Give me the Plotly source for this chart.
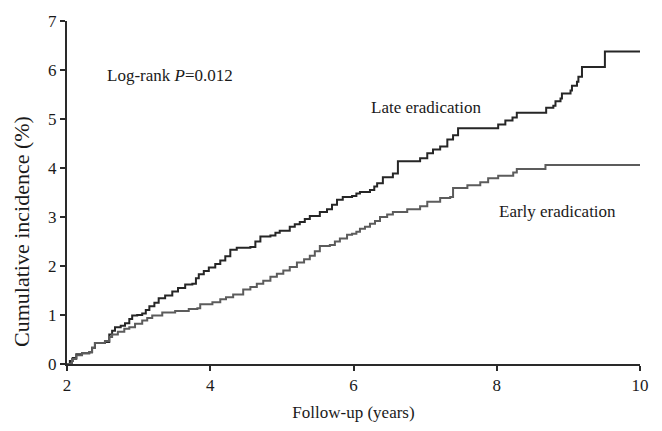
import plotly.graph_objects as go

# Late eradication: follow-up (years) and cumulative incidence (%)
late_years = [2.00, 2.04, 2.08, 2.13, 2.21, 2.31, 2.35, 2.39, 2.53, 2.59,
              2.63, 2.67, 2.75, 2.81, 2.87, 2.91, 2.98, 3.05, 3.10, 3.15,
              3.22, 3.28, 3.37, 3.47, 3.55, 3.65, 3.75, 3.80, 3.84, 3.91,
              3.98, 4.07, 4.14, 4.21, 4.28, 4.37, 4.56, 4.63, 4.70, 4.84,
              4.91, 4.97, 5.11, 5.18, 5.25, 5.32, 5.39, 5.53, 5.63, 5.70,
              5.77, 5.85, 5.98, 6.04, 6.09, 6.23, 6.29, 6.33, 6.41, 6.55,
              6.62, 6.89, 6.93, 7.03, 7.11, 7.21, 7.31, 7.39, 7.46, 8.01,
              8.02, 8.12, 8.22, 8.28, 8.68, 8.69, 8.79, 8.82, 8.89, 8.91,
              9.03, 9.05, 9.12, 9.14, 9.19, 9.51, 10.00]
late_incidence = [0.00, 0.06, 0.12, 0.20, 0.22, 0.24, 0.33, 0.43, 0.45, 0.60,
                  0.68, 0.75, 0.78, 0.83, 0.92, 0.99, 1.00, 1.03, 1.10, 1.18,
                  1.25, 1.34, 1.40, 1.48, 1.55, 1.62, 1.64, 1.75, 1.83, 1.90,
                  1.97, 2.04, 2.11, 2.20, 2.33, 2.37, 2.39, 2.50, 2.60, 2.62,
                  2.68, 2.72, 2.80, 2.85, 2.90, 2.96, 3.02, 3.10, 3.16, 3.25,
                  3.35, 3.41, 3.43, 3.48, 3.51, 3.55, 3.62, 3.69, 3.81, 3.89,
                  4.14, 4.14, 4.20, 4.30, 4.38, 4.44, 4.58, 4.67, 4.81, 4.81,
                  4.89, 4.97, 5.03, 5.13, 5.13, 5.23, 5.27, 5.36, 5.42, 5.52,
                  5.58, 5.68, 5.76, 5.86, 6.06, 6.38, 6.38]

# Early eradication
early_years = [2.00, 2.07, 2.13, 2.21, 2.31, 2.35, 2.39, 2.53, 2.59, 2.63,
               2.71, 2.80, 2.87, 2.95, 3.05, 3.12, 3.19, 3.33, 3.51, 3.70,
               3.82, 3.86, 4.03, 4.14, 4.22, 4.32, 4.46, 4.56, 4.65, 4.74,
               4.84, 4.93, 5.02, 5.11, 5.21, 5.31, 5.39, 5.46, 5.53, 5.67,
               5.74, 5.81, 5.91, 5.98, 6.04, 6.09, 6.16, 6.23, 6.30, 6.37,
               6.47, 6.55, 6.75, 6.93, 7.03, 7.21, 7.35, 7.39, 7.59, 7.77,
               7.88, 8.02, 8.23, 8.28, 8.68, 10.00]
early_incidence = [0.00, 0.10, 0.18, 0.22, 0.24, 0.33, 0.43, 0.47, 0.55, 0.60,
                   0.66, 0.72, 0.75, 0.82, 0.89, 0.94, 0.99, 1.05, 1.08, 1.12,
                   1.14, 1.22, 1.26, 1.32, 1.36, 1.42, 1.52, 1.57, 1.64, 1.70,
                   1.78, 1.84, 1.91, 1.98, 2.07, 2.14, 2.21, 2.30, 2.41, 2.43,
                   2.50, 2.56, 2.64, 2.66, 2.70, 2.76, 2.80, 2.86, 2.92, 3.00,
                   3.05, 3.10, 3.16, 3.22, 3.31, 3.39, 3.41, 3.59, 3.65, 3.71,
                   3.79, 3.84, 3.91, 3.98, 4.06, 4.06]

x_ticks = [2, 4, 6, 8, 10]
y_ticks = [0, 1, 2, 3, 4, 5, 6, 7]

FONT = "Liberation Serif"
TXT = "#1a1a1a"
AX = "#2a2a2a"

fig = go.Figure()
fig.add_trace(go.Scatter(x=late_years, y=late_incidence, mode="lines", name="Late eradication",
                         line=dict(color="#262626", width=2, shape="hv")))
fig.add_trace(go.Scatter(x=early_years, y=early_incidence, mode="lines", name="Early eradication",
                         line=dict(color="#5c5c5c", width=2, shape="hv")))

fig.add_annotation(x=2.53, y=5.88, xref="x", yref="y", xanchor="left", yanchor="middle",
                   text="Log-rank <i>P</i>=0.012", showarrow=False,
                   font=dict(family=FONT, size=17, color=TXT))
fig.add_annotation(x=6.22, y=5.23, xref="x", yref="y", xanchor="left", yanchor="middle",
                   text="Late eradication", showarrow=False,
                   font=dict(family=FONT, size=17, color=TXT))
fig.add_annotation(x=8.01, y=3.12, xref="x", yref="y", xanchor="left", yanchor="middle",
                   text="Early eradication", showarrow=False,
                   font=dict(family=FONT, size=17, color=TXT))
# y-axis title, placed slightly below the axis middle as in the reference
fig.add_annotation(x=-0.0785, y=0.385, xref="paper", yref="paper", xanchor="center",
                   yanchor="middle", textangle=-90, text="Cumulative incidence (%)",
                   showarrow=False, font=dict(family=FONT, size=22, color=TXT))

fig.update_layout(
    width=662, height=431,
    margin=dict(l=67, r=22, t=14, b=62),
    paper_bgcolor="white", plot_bgcolor="white",
    showlegend=False,
    font=dict(family=FONT, size=17, color=TXT),
    xaxis=dict(range=[2, 10], tickvals=x_ticks, ticks="outside", ticklen=5, tickwidth=2,
               tickcolor=AX, showline=True, linecolor=AX, linewidth=2, showgrid=False,
               zeroline=False, tickfont=dict(family=FONT, size=17, color=TXT),
               title=dict(text="Follow-up (years)", font=dict(family=FONT, size=17, color=TXT),
                          standoff=12)),
    yaxis=dict(range=[0, 7], tickvals=y_ticks, ticks="outside", ticklen=5, tickwidth=2,
               tickcolor=AX, showline=True, linecolor=AX, linewidth=2, showgrid=False,
               zeroline=False, tickfont=dict(family=FONT, size=17, color=TXT)),
)

fig.write_html("out.html")
